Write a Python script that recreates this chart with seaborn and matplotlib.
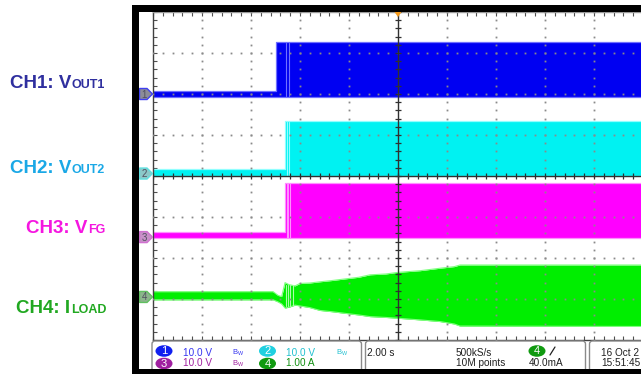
import numpy as np
import pandas as pd
import matplotlib
matplotlib.use("Agg")
import matplotlib.pyplot as plt
import seaborn as sns
from matplotlib.patches import Rectangle, Polygon, Ellipse, FancyBboxPatch
from matplotlib import font_manager

# ---------------------------------------------------------------------------
# Acquisition settings: 2 s/div, 10 horizontal divisions, trigger at centre
# ---------------------------------------------------------------------------
time_per_div = 2.0
ch_names = ["1", "2", "3", "4"]
ch_scales = [10.0, 10.0, 10.0, 1.00]          # V/div, V/div, V/div, A/div
ch_offsets = [2.0, 0.06, -1.49, -2.95]        # ground-marker position (div)

# CH1: VOUT1 envelope (V) - idle, then switching from about -5 s
ch1_t = [-10.0, -4.98, 10.0]
ch1_hi = [0.7, 12.7, 12.7]
ch1_lo = [-0.7, -0.7, -0.7]
ch1_streaks = [-4.57, -4.45]

# CH2: VOUT2 envelope (V)
ch2_t = [-10.0, -4.61, 10.0]
ch2_hi = [1.1, 12.8, 12.8]
ch2_lo = [-0.6, -0.6, -0.6]
ch2_streaks = [-4.54, -4.45]

# CH3: VFG envelope (V)
ch3_t = [-10.0, -4.61, 10.0]
ch3_hi = [1.2, 13.3, 13.3]
ch3_lo = [-0.3, -0.3, -0.3]
ch3_streaks = [-4.52, -4.47, -4.42]

# CH4: ILOAD envelope (A) - ripple grows as the load ramps up
ch4_t = [-10.0, -5.10, -4.90, -4.75, -4.61, -4.45, -4.20, -4.00, -3.60, -3.18,
         -2.70, -2.16, -1.60, -1.14, -0.50, 0.00, 0.90, 1.71, 2.30, 2.53, 10.0]
ch4_hi = [0.13, 0.13, 0.04, 0.01, 0.35, 0.30, 0.27, 0.33, 0.34, 0.37,
          0.40, 0.44, 0.48, 0.54, 0.56, 0.60, 0.64, 0.70, 0.74, 0.78, 0.78]
ch4_lo = [-0.07, -0.07, -0.12, -0.17, -0.27, -0.25, -0.20, -0.22, -0.26, -0.33,
          -0.36, -0.40, -0.44, -0.48, -0.50, -0.52, -0.56, -0.60, -0.66, -0.71, -0.72]
ch4_streaks = [-4.58, -4.50, -4.40, -4.30]

# Status-bar readouts
ch_scale_text = ["10.0 V", "10.0 V", "10.0 V", "1.00 A"]
timebase_text = "2.00 s"
sample_rate_text = "500kS/s"
record_text = "10M points"
trigger_level_text = "40.0mA"
date_text = "16 Oct 2"
clock_text = "15:51:45"

# Channel label captions (main part, small-caps part)
label_main = ["CH1: V", "CH2: V", "CH3: V", "CH4: I"]
label_small = ["OUT1", "OUT2", "FG", "LOAD"]

# ---------------------------------------------------------------------------
sns.set_theme(style="white")
plt.rcParams["font.family"] = ["Liberation Sans", "DejaVu Sans"]

trace_cols = ["#0000F2", "#00F2F2", "#FF00FF", "#00EE00"]
rim_cols = ["#7070FF", "#90FFFF", "#FF90FF", "#80FF80"]
label_cols = ["#2F2F9F", "#1AA8E6", "#F516E0", "#21A821"]
badge_cols = ["#1020F0", "#20D0E0", "#A020A0", "#109A10"]
readout_cols = ["#3535F0", "#20C0D0", "#A020A0", "#109010"]
marker_fill = ["#8C8C98", "#8CC8C8", "#C890C8", "#8CB48C"]
marker_edge = ["#4040F0", "#60E0E0", "#D070D0", "#60C060"]

W, H = 641, 374
fig = plt.figure(figsize=(W / 100, H / 100), dpi=100)
fig.patch.set_facecolor("white")

# graticule area in pixels (10 x 8 divisions of 49 x 41 px)
X0, X1, Y0, Y1 = 153, 643, 12, 340
ax = fig.add_axes([X0 / W, 1 - Y1 / H, (X1 - X0) / W, (Y1 - Y0) / H])
ax.set_xlim(-5 * time_per_div, 5 * time_per_div)
ax.set_ylim(-4, 4)
ax.set_facecolor("white")

def to_div(vals, k):
    return ch_offsets[k] + np.asarray(vals, dtype=float) / ch_scales[k]

envelopes = [(ch1_t, ch1_lo, ch1_hi, ch1_streaks),
             (ch2_t, ch2_lo, ch2_hi, ch2_streaks),
             (ch3_t, ch3_lo, ch3_hi, ch3_streaks)]
for k, (t, lo, hi, streaks) in enumerate(envelopes):
    ylo, yhi = to_div(lo, k), to_div(hi, k)
    ax.fill_between(t, ylo, yhi, step="post", facecolor=trace_cols[k],
                    edgecolor=rim_cols[k], lw=0.9, zorder=2)
    for s in streaks:
        ax.plot([s, s], [ylo[-1] + 0.02, yhi[-1] - 0.02], color=rim_cols[k],
                lw=0.8, zorder=2.1)

# load current envelope
ylo4, yhi4 = to_div(ch4_lo, 3), to_div(ch4_hi, 3)
ax.fill_between(ch4_t, ylo4, yhi4, facecolor=trace_cols[3], lw=0, zorder=2)
edge_df = pd.DataFrame({"t": list(ch4_t) * 2,
                        "y": list(yhi4) + list(ylo4),
                        "side": ["hi"] * len(ch4_t) + ["lo"] * len(ch4_t)})
sns.lineplot(data=edge_df, x="t", y="y", units="side", estimator=None,
             color=rim_cols[3], lw=0.8, ax=ax, zorder=2.05, legend=False)
i_mid = ch4_t.index(-4.61)
for s in ch4_streaks:
    ax.plot([s, s], [ylo4[i_mid] + 0.05, yhi4[i_mid] - 0.05], color="#A8FFA8",
            lw=0.8, zorder=2.1)

# graticule: dotted division lines, centre cross with minor ticks
minor_x = np.arange(-10, 10.001, 0.4)
minor_y = np.arange(-4, 4.001, 0.2)
dot = dict(ls="none", marker="s", ms=1.3, mew=0, color="#8A8A8A", zorder=3)
for gx in [-8, -6, -4, -2, 2, 4, 6, 8]:
    ax.plot(np.full_like(minor_y, gx), minor_y, **dot)
for gy in [-3, -2, -1, 1, 2, 3]:
    ax.plot(minor_x, np.full_like(minor_x, gy), **dot)
ax.axvline(0, color="#303030", lw=1.0, zorder=4)
ax.axhline(0, color="#303030", lw=1.0, zorder=4)
ax.plot(np.zeros_like(minor_y), minor_y, ls="none", marker="_", ms=5,
        mew=0.9, color="#303030", zorder=4)
ax.plot(minor_x, np.zeros_like(minor_x), ls="none", marker="|", ms=5,
        mew=0.9, color="#303030", zorder=4)

for side in ["left", "bottom"]:
    ax.spines[side].set_color("#404040")
    ax.spines[side].set_linewidth(1.0)
ax.spines["top"].set_color("#9A9A9A")
ax.spines["top"].set_linewidth(1.0)
ax.spines["right"].set_visible(False)
ax.set_xticks(minor_x)
ax.set_yticks(minor_y)
ax.tick_params(axis="both", which="both", direction="in", length=3, width=0.8,
               color="#505050", labelleft=False, labelbottom=False,
               left=True, bottom=True, top=True, right=False)
ax.set_xlabel("")
ax.set_ylabel("")

# ---------------------------------------------------------------------------
# Overlay in pixel coordinates: frame, channel markers, captions, status bar
# ---------------------------------------------------------------------------
ov = fig.add_axes([0, 0, 1, 1], zorder=10)
ov.set_xlim(0, W)
ov.set_ylim(H, 0)
ov.axis("off")
ov.patch.set_alpha(0)

def ypix(div):
    return Y0 + (4 - div) * (Y1 - Y0) / 8.0

# ground markers
for k in range(4):
    yc = ypix(ch_offsets[k])
    poly = Polygon([(139.5, yc - 5.5), (147, yc - 5.5), (152.5, yc),
                    (147, yc + 5.5), (139.5, yc + 5.5)], closed=True,
                   facecolor=marker_fill[k], edgecolor=marker_edge[k], lw=1.0)
    ov.add_patch(poly)
    ov.text(144.5, yc + 0.5, ch_names[k], color="#505060", fontsize=7,
            ha="center", va="center")

# trigger position marker
ov.add_patch(Polygon([(394.5, 12), (401.5, 12), (398, 17)], closed=True,
                     facecolor="#F39A1E", edgecolor="none"))

# channel captions with small-caps subscripts sharing the baseline
label_x = [10, 10, 26, 16]
label_base = [88, 173, 233, 313]
fig.canvas.draw()
renderer = fig.canvas.get_renderer()
for k in range(4):
    t_main = ov.text(label_x[k], label_base[k], label_main[k], color=label_cols[k],
                     fontsize=13.5, fontweight="bold", ha="left", va="baseline")
    bb = t_main.get_window_extent(renderer)
    x_end = ov.transData.inverted().transform((bb.x1, bb.y0))[0]
    ov.text(x_end + 0.5, label_base[k], label_small[k], color=label_cols[k],
            fontsize=9, fontweight="bold", ha="left", va="baseline")

# status bar boxes
for bx0, bx1 in [(152, 361.5), (365.5, 585.5), (589.5, 660)]:
    ov.add_patch(FancyBboxPatch((bx0 + 3, 344), bx1 - bx0 - 6, 40,
                                boxstyle="round,pad=3", facecolor="white",
                                edgecolor="#8A8A8A", lw=1.0))

names = {f.name for f in font_manager.fontManager.ttflist}
if "Liberation Sans Narrow" in names:
    sfam, ssize = ["Liberation Sans Narrow", "DejaVu Sans"], 8.4
else:
    sfam, ssize = ["Liberation Sans", "DejaVu Sans"], 7.2

row_base = [355.5, 366.5]
row_center = [351, 363.5]
badge_x = [164, 267.5]
channel_slots = [(0, 0, 0), (1, 0, 1), (2, 1, 0), (3, 1, 1)]
for k, row, col in channel_slots:
    cx = badge_x[col]
    ov.add_patch(Ellipse((cx, row_center[row]), 17, 11.5, facecolor=badge_cols[k],
                         edgecolor="none"))
    ov.text(cx, row_center[row] + 0.5, ch_names[k], color="white", fontsize=8,
            ha="center", va="center", family=sfam)
    ov.text(cx + 19, row_base[row], ch_scale_text[k], color=readout_cols[k],
            fontsize=ssize, ha="left", va="baseline", family=sfam)
    if k < 3:
        ov.text(cx + 68, row_base[row] - 1, r"$\mathregular{B_W}$",
                color=readout_cols[k], fontsize=5.5, ha="left", va="baseline")

ov.text(367, row_base[0], timebase_text, color="#202020", fontsize=ssize,
        ha="left", va="baseline", family=sfam)
ov.text(456, row_base[0], sample_rate_text, color="#202020", fontsize=ssize,
        ha="left", va="baseline", family=sfam)
ov.text(456, row_base[1], record_text, color="#202020", fontsize=ssize,
        ha="left", va="baseline", family=sfam)
ov.add_patch(Ellipse((537, row_center[0]), 17, 11.5, facecolor=badge_cols[3],
                     edgecolor="none"))
ov.text(537, row_center[0] + 0.5, ch_names[3], color="white", fontsize=8,
        ha="center", va="center", family=sfam)
ov.plot([550, 555], [355, 347], color="#202020", lw=0.9)
ov.text(529, row_base[1], trigger_level_text, color="#202020", fontsize=ssize,
        ha="left", va="baseline", family=sfam)
ov.text(601, row_base[0], date_text, color="#202020", fontsize=ssize,
        ha="left", va="baseline", family=sfam)
ov.text(601, row_base[1], clock_text, color="#202020", fontsize=ssize,
        ha="left", va="baseline", family=sfam)

# black bezel around the screen
for rx, ry, rw, rh in [(132, 5, W - 132, 7), (132, 5, 7, H - 5),
                       (132, 368.5, W - 132, H - 368.5)]:
    ov.add_patch(Rectangle((rx, ry), rw, rh, facecolor="black",
                           edgecolor="none", zorder=20))

fig.savefig("out.png", dpi=100, facecolor="white")
